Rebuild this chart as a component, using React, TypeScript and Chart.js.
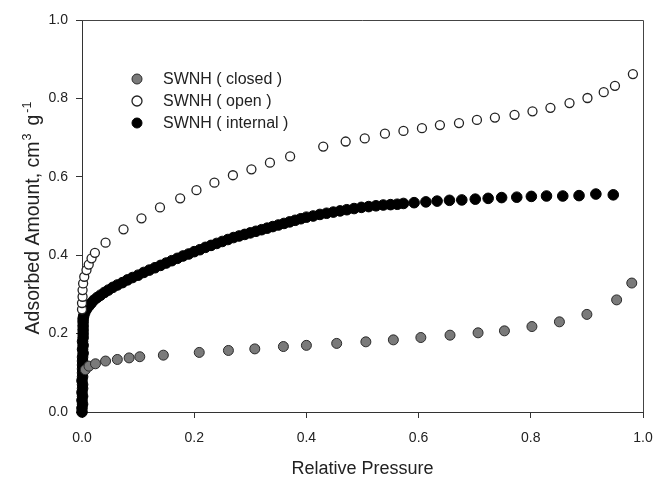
import React, { useEffect, useRef } from "react";
import { Chart, registerables } from "chart.js";

Chart.register(...registerables);

// ---- Data ----
const seriesLabels = ["SWNH ( closed )", "SWNH ( open )", "SWNH ( internal )"];
const xTitle = "Relative Pressure";
const yTitleParts = [
  { text: "Adsorbed Amount, cm", sup: false },
  { text: "3", sup: true },
  { text: "g", sup: false },
  { text: "-1", sup: true },
];

const closedP = [0.006, 0.0125, 0.024, 0.042, 0.063, 0.084, 0.103, 0.145, 0.209, 0.261, 0.308, 0.359, 0.400, 0.454, 0.506, 0.555, 0.604, 0.656, 0.706, 0.753, 0.802, 0.851, 0.900, 0.953, 0.980];
const closedA = [0.108, 0.117, 0.123, 0.130, 0.134, 0.138, 0.141, 0.145, 0.152, 0.157, 0.161, 0.167, 0.170, 0.175, 0.179, 0.184, 0.190, 0.196, 0.202, 0.207, 0.218, 0.230, 0.249, 0.286, 0.329];

const openP = [0.000, 0.000, 0.001, 0.001, 0.002, 0.004, 0.008, 0.012, 0.017, 0.023, 0.042, 0.074, 0.106, 0.139, 0.175, 0.204, 0.236, 0.269, 0.302, 0.335, 0.371, 0.430, 0.470, 0.504, 0.540, 0.573, 0.606, 0.638, 0.672, 0.704, 0.736, 0.771, 0.803, 0.835, 0.869, 0.901, 0.930, 0.950, 0.982];
const openA = [0.262, 0.278, 0.294, 0.311, 0.328, 0.345, 0.362, 0.376, 0.392, 0.406, 0.432, 0.466, 0.494, 0.522, 0.545, 0.566, 0.585, 0.604, 0.619, 0.636, 0.652, 0.677, 0.690, 0.698, 0.710, 0.717, 0.724, 0.732, 0.737, 0.745, 0.751, 0.758, 0.767, 0.776, 0.788, 0.801, 0.816, 0.832, 0.862];

const internalP = [
  0.000, 0.000, 0.001, 0.000, 0.001, 0.000, 0.001, 0.001, 0.000, 0.001, 0.001, 0.001, 0.001,
  0.001, 0.001, 0.002, 0.001, 0.002, 0.001, 0.002, 0.002, 0.002, 0.002, 0.002, 0.002,
  0.003, 0.005, 0.008, 0.012, 0.016, 0.021, 0.027, 0.033, 0.040, 0.047, 0.055, 0.063, 0.072, 0.081, 0.090,
  0.100, 0.110, 0.120, 0.130, 0.140, 0.150, 0.160, 0.170, 0.180, 0.190,
  0.200, 0.210, 0.220, 0.230, 0.240, 0.250, 0.260, 0.270, 0.280, 0.290,
  0.300, 0.310, 0.320, 0.330, 0.340, 0.350, 0.360, 0.370, 0.380, 0.390,
  0.400, 0.412, 0.424, 0.436, 0.448, 0.460, 0.472, 0.485, 0.498, 0.511, 0.524, 0.537, 0.550, 0.562,
  0.573, 0.592, 0.613, 0.633, 0.655, 0.677, 0.701, 0.724, 0.748, 0.775, 0.801, 0.828, 0.857, 0.886, 0.916, 0.947
];
const internalA = [
  0.000, 0.010, 0.020, 0.030, 0.040, 0.050, 0.060, 0.070, 0.080, 0.090, 0.100, 0.110, 0.120,
  0.130, 0.140, 0.150, 0.160, 0.170, 0.180, 0.190, 0.200, 0.210, 0.220, 0.230, 0.238,
  0.245, 0.254, 0.262, 0.270, 0.277, 0.285, 0.292, 0.298, 0.305, 0.311, 0.318, 0.324, 0.330, 0.337, 0.343,
  0.349, 0.356, 0.362, 0.368, 0.374, 0.380, 0.386, 0.392, 0.398, 0.403,
  0.409, 0.414, 0.420, 0.425, 0.430, 0.435, 0.440, 0.445, 0.449, 0.453,
  0.457, 0.461, 0.465, 0.469, 0.473, 0.477, 0.481, 0.485, 0.489, 0.493,
  0.497, 0.500, 0.504, 0.507, 0.510, 0.513, 0.516, 0.519, 0.522, 0.524, 0.526, 0.528, 0.529, 0.530,
  0.532, 0.534, 0.536, 0.538, 0.540, 0.541, 0.543, 0.545, 0.547, 0.548, 0.550, 0.551, 0.551, 0.552, 0.556, 0.554
];

const xTicks = [0, 0.2, 0.4, 0.6, 0.8, 1.0];
const yTicks = [0, 0.2, 0.4, 0.6, 0.8, 1.0];

const FONT = "'Liberation Sans', Arial, sans-serif";

const toPoints = (xs: number[], ys: number[]) => xs.map((x, i) => ({ x, y: ys[i] }));

const framePlugin = {
  id: "frame",
  afterDraw(chart: any) {
    const { ctx, chartArea } = chart;
    ctx.save();
    ctx.strokeStyle = "#444";
    ctx.lineWidth = 1;
    ctx.beginPath();
    ctx.moveTo(chartArea.left, chartArea.top + 0.5);
    ctx.lineTo(chartArea.right + 0.5, chartArea.top + 0.5);
    ctx.lineTo(chartArea.right + 0.5, chartArea.bottom);
    ctx.stroke();
    ctx.restore();
  },
};

// y-axis title with real superscripts
const yTitlePlugin = {
  id: "yTitle",
  afterDraw(chart: any) {
    const { ctx, chartArea } = chart;
    const mainSize = 19.5;
    const supSize = 12.5;
    const gaps = [0, 1, 8, 2];
    ctx.save();
    ctx.fillStyle = "#222";
    ctx.textBaseline = "alphabetic";
    ctx.textAlign = "left";
    let total = 0;
    const widths = yTitleParts.map((p, i) => {
      ctx.font = `${p.sup ? supSize : mainSize}px ${FONT}`;
      const w = ctx.measureText(p.text).width;
      total += w + gaps[i];
      return w;
    });
    const cx = 32;
    const cy = (chartArea.top + chartArea.bottom) / 2 + 2;
    ctx.translate(cx, cy);
    ctx.rotate(-Math.PI / 2);
    let x = -total / 2;
    const base = mainSize * 0.36;
    yTitleParts.forEach((p, i) => {
      x += gaps[i];
      ctx.font = `${p.sup ? supSize : mainSize}px ${FONT}`;
      ctx.fillText(p.text, x, p.sup ? base - mainSize * 0.42 : base);
      x += widths[i];
    });
    ctx.restore();
  },
};

const legendPlugin = {
  id: "insideLegend",
  afterDatasetsDraw(chart: any) {
    const { ctx, chartArea } = chart;
    const x0 = chartArea.left + 55;
    const y0 = chartArea.top + 59;
    ctx.save();
    ctx.font = `16px ${FONT}`;
    ctx.textBaseline = "middle";
    ctx.textAlign = "left";
    chart.data.datasets.forEach((ds: any, i: number) => {
      const y = y0 + i * 22;
      ctx.beginPath();
      ctx.arc(x0, y, 5, 0, Math.PI * 2);
      ctx.fillStyle = ds.pointBackgroundColor;
      ctx.fill();
      ctx.lineWidth = ds.pointBorderWidth;
      ctx.strokeStyle = ds.pointBorderColor;
      ctx.stroke();
      ctx.fillStyle = "#222";
      ctx.fillText(ds.label, x0 + 26, y + 1);
    });
    ctx.restore();
  },
};

export default function App() {
  const canvasRef = useRef<HTMLCanvasElement | null>(null);

  useEffect(() => {
    if (!canvasRef.current) return;
    const chart = new Chart(canvasRef.current, {
      type: "scatter",
      data: {
        datasets: [
          {
            label: seriesLabels[0],
            data: toPoints(closedP, closedA),
            pointRadius: 5,
            pointBackgroundColor: "#7a7a7a",
            pointBorderColor: "#2a2a2a",
            pointBorderWidth: 1,
            clip: false,
          },
          {
            label: seriesLabels[1],
            data: toPoints(openP, openA),
            pointRadius: 4.5,
            pointBackgroundColor: "#ffffff",
            pointBorderColor: "#222222",
            pointBorderWidth: 1.3,
            clip: false,
          },
          {
            label: seriesLabels[2],
            data: toPoints(internalP, internalA),
            pointRadius: 5.3,
            pointBackgroundColor: "#000000",
            pointBorderColor: "#000000",
            pointBorderWidth: 1,
            clip: false,
          },
        ] as any,
      },
      options: {
        animation: false,
        responsive: true,
        maintainAspectRatio: false,
        layout: { padding: { top: 20, right: 10, left: 0, bottom: 0 } },
        plugins: {
          legend: { display: false },
          tooltip: { enabled: false },
        },
        scales: {
          x: {
            type: "linear",
            min: 0,
            max: 1,
            afterBuildTicks: (scale: any) => {
              scale.ticks = xTicks.map((v) => ({ value: v }));
            },
            afterFit: (scale: any) => {
              scale.height = 65;
              scale.paddingLeft = 0;
              scale.paddingRight = 0;
            },
            ticks: {
              color: "#222",
              font: { family: FONT, size: 14 },
              padding: 12,
              maxRotation: 0,
              callback: (v: any) => Number(v).toFixed(1),
            },
            grid: {
              drawOnChartArea: false,
              drawTicks: true,
              tickLength: 6,
              tickColor: "#333",
            },
            border: { display: true, color: "#333", width: 1 },
            title: {
              display: true,
              text: xTitle,
              color: "#222",
              font: { family: FONT, size: 18 },
              padding: { top: 0, bottom: -3 },
            },
          },
          y: {
            type: "linear",
            min: 0,
            max: 1,
            afterBuildTicks: (scale: any) => {
              scale.ticks = yTicks.map((v) => ({ value: v }));
            },
            afterFit: (scale: any) => {
              scale.width = 82;
              scale.paddingTop = 0;
              scale.paddingBottom = 0;
            },
            ticks: {
              color: "#222",
              font: { family: FONT, size: 14 },
              padding: 8,
              callback: (v: any) => Number(v).toFixed(1),
            },
            grid: {
              drawOnChartArea: false,
              drawTicks: true,
              tickLength: 6,
              tickColor: "#333",
            },
            border: { display: true, color: "#333", width: 1 },
            title: { display: false },
          },
        },
      } as any,
      plugins: [framePlugin, legendPlugin, yTitlePlugin],
    });
    return () => chart.destroy();
  }, []);

  return (
    <div style={{ position: "fixed", left: 0, top: 0, width: 653, height: 477, background: "#fff" }}>
      <canvas ref={canvasRef} />
    </div>
  );
}
